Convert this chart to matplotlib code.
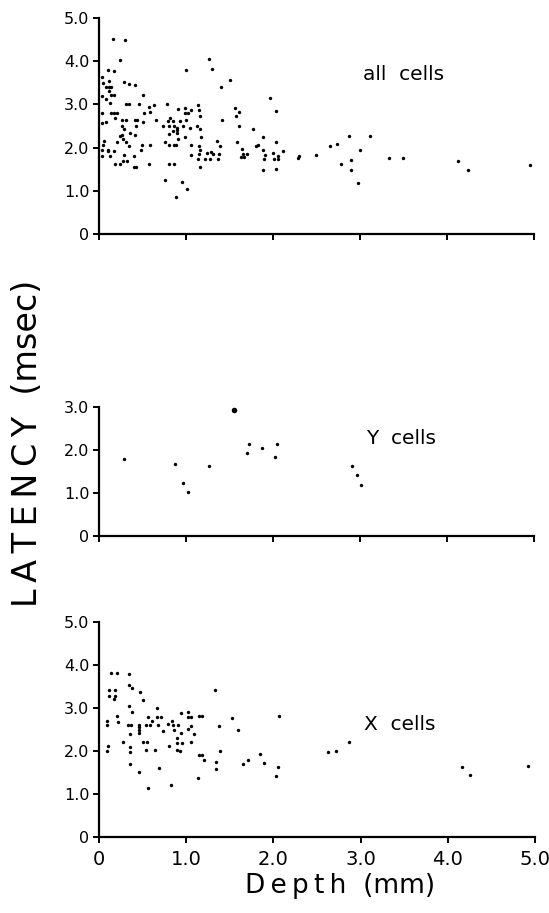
import matplotlib
matplotlib.use("Agg")
import matplotlib.pyplot as plt

# ---------------------------------------------------------------------------
# data: depth (mm) vs latency (msec)
# ---------------------------------------------------------------------------
all_depth = [
    0.16, 0.30, 0.24, 0.10, 0.17, 1.00, 0.04, 0.11, 0.05, 0.29, 0.34, 0.41,
    0.08, 0.11, 0.14, 0.11, 0.04, 0.14, 0.17, 0.08, 0.50, 0.13, 0.31, 0.35,
    0.46, 0.63, 0.78, 0.57, 0.91, 0.99, 0.04, 0.14, 0.17, 0.21, 0.52, 0.59,
    0.99, 1.02, 0.18, 0.08, 0.03, 0.26, 0.31, 0.41, 0.44, 0.50, 0.65, 0.82,
    0.79, 0.85, 0.93, 1.00, 1.05, 1.06, 0.27, 0.42, 0.73, 0.80, 0.86, 0.90,
    0.90, 0.97, 0.29, 0.85, 0.90, 0.36, 0.41, 0.27, 0.24, 0.81, 0.99, 0.91,
    0.28, 0.31, 0.21, 0.06, 0.76, 0.34, 0.05, 0.49, 0.59, 0.81, 0.86, 0.89,
    0.04, 0.10, 0.10, 0.17, 0.48, 1.06, 0.04, 0.13, 0.29, 0.40, 0.28, 0.32,
    1.06, 0.18, 0.24, 0.58, 0.81, 0.86, 0.40, 0.43, 0.76, 0.95, 1.01, 0.89,
    1.26, 1.30, 1.51, 1.40, 1.96, 1.14, 1.15, 1.16, 2.04, 1.56, 1.61, 1.57,
    1.41, 1.61, 1.13, 1.16, 1.77, 1.17, 1.88, 1.36, 1.59, 2.04, 1.39, 1.83,
    1.81, 1.15, 1.16, 1.64, 1.88, 2.12, 1.29, 1.24, 1.66, 1.70, 1.15, 1.31,
    1.38, 1.91, 2.00, 2.06, 2.30, 1.14, 1.22, 1.28, 1.37, 1.63, 1.67, 1.90,
    2.01, 2.06, 1.16, 1.88, 2.03,
    2.29, 2.49, 2.66, 2.74, 2.87, 3.11, 3.00, 2.90, 2.78, 2.90, 2.98, 3.33,
    3.49, 4.13, 4.24, 4.95,
]
all_latency = [
    4.51, 4.49, 4.02, 3.79, 3.78, 3.80, 3.63, 3.54, 3.50, 3.52, 3.47, 3.44,
    3.41, 3.41, 3.41, 3.31, 3.20, 3.21, 3.21, 3.12, 3.21, 3.03, 3.02, 3.02,
    3.02, 2.98, 3.02, 2.93, 2.89, 2.92, 2.81, 2.80, 2.80, 2.80, 2.80, 2.82,
    2.80, 2.80, 2.69, 2.60, 2.57, 2.65, 2.65, 2.64, 2.64, 2.60, 2.63, 2.68,
    2.62, 2.62, 2.61, 2.63, 2.45, 2.88, 2.51, 2.49, 2.49, 2.49, 2.49, 2.46,
    2.41, 2.50, 2.43, 2.38, 2.33, 2.34, 2.29, 2.29, 2.26, 2.31, 2.24, 2.21,
    2.20, 2.12, 2.12, 2.15, 2.13, 2.03, 2.05, 2.05, 2.05, 2.05, 2.05, 2.05,
    1.95, 1.95, 1.92, 1.92, 1.94, 2.05, 1.80, 1.80, 1.82, 1.81, 1.69, 1.69,
    1.82, 1.62, 1.62, 1.63, 1.62, 1.62, 1.54, 1.54, 1.26, 1.20, 1.04, 0.85,
    4.04, 3.82, 3.57, 3.41, 3.14, 2.99, 2.86, 2.74, 2.85, 2.92, 2.82, 2.73,
    2.64, 2.51, 2.51, 2.43, 2.44, 2.25, 2.25, 2.15, 2.12, 2.12, 2.03, 2.07,
    2.03, 2.03, 1.94, 1.96, 1.95, 1.93, 1.89, 1.88, 1.86, 1.85, 1.85, 1.85,
    1.86, 1.84, 1.87, 1.81, 1.81, 1.74, 1.73, 1.73, 1.73, 1.78, 1.78, 1.73,
    1.73, 1.73, 1.54, 1.47, 1.50,
    1.75, 1.84, 2.04, 2.08, 2.26, 2.27, 1.94, 1.71, 1.63, 1.49, 1.17, 1.77,
    1.77, 1.69, 1.48, 1.60,
]

y_depth = [0.29, 0.87, 0.97, 1.02, 1.27, 1.72, 1.70, 1.87, 2.05, 2.02,
           2.91, 2.96, 3.01]
y_latency = [1.79, 1.67, 1.24, 1.03, 1.63, 2.13, 1.92, 2.05, 2.13, 1.83,
             1.63, 1.42, 1.18]
y_big_depth = [1.55]          # the one heavier dot
y_big_latency = [2.92]

x_depth = [
    0.14, 0.21, 0.34, 0.12, 0.18, 0.12, 0.18, 0.17, 0.34, 0.38, 0.47, 0.51,
    0.34, 0.38, 0.67, 0.21, 0.22, 0.09, 0.09, 0.33, 0.37, 0.35, 0.46, 0.46,
    0.46, 0.46, 0.54, 0.58, 0.56, 0.61, 0.66, 0.71, 0.68, 0.73, 0.79, 0.84,
    0.85, 0.91, 0.94, 0.86, 0.94, 1.02, 1.02, 1.06, 1.02, 1.06, 1.09, 0.90,
    0.89, 0.95, 1.05, 0.90, 0.93, 0.80, 0.64, 0.54, 0.51, 0.55, 0.27, 0.35,
    0.36, 0.10, 0.09, 0.35, 0.69, 0.46, 0.56, 0.82,
    1.33, 1.15, 1.18, 1.53, 2.06, 1.38, 1.59, 1.39, 1.15, 1.18, 1.20, 1.34,
    1.34, 1.14, 1.71, 1.65, 1.85, 1.89, 2.05, 2.03,
    2.63, 2.72, 2.87, 4.16, 4.26, 4.92,
]
x_latency = [
    3.81, 3.81, 3.80, 3.42, 3.42, 3.29, 3.29, 3.20, 3.53, 3.46, 3.37, 3.18,
    3.05, 2.90, 2.99, 2.81, 2.68, 2.69, 2.61, 2.60, 2.60, 2.40, 2.60, 2.55,
    2.50, 2.42, 2.60, 2.60, 2.78, 2.69, 2.78, 2.80, 2.60, 2.47, 2.62, 2.70,
    2.61, 2.61, 2.88, 2.48, 2.43, 2.90, 2.79, 2.79, 2.52, 2.59, 2.40, 2.30,
    2.19, 2.19, 2.22, 2.03, 1.99, 2.11, 2.03, 2.02, 2.22, 2.22, 2.20, 2.10,
    1.97, 2.11, 2.00, 1.69, 1.60, 1.51, 1.15, 1.21,
    3.41, 2.81, 2.81, 2.77, 2.82, 2.58, 2.49, 2.00, 1.90, 1.90, 1.78, 1.75,
    1.58, 1.37, 1.79, 1.70, 1.93, 1.71, 1.62, 1.42,
    1.98, 2.00, 2.22, 1.63, 1.44, 1.64,
]

depth_ticks = [0, 1, 2, 3, 4, 5]
depth_labels = ["0", "1.0", "2.0", "3.0", "4.0", "5.0"]
lat_ticks_5 = [0, 1, 2, 3, 4, 5]
lat_labels_5 = ["0", "1.0", "2.0", "3.0", "4.0", "5.0"]
lat_ticks_3 = [0, 1, 2, 3]
lat_labels_3 = ["0", "1.0", "2.0", "3.0"]

W, H = 549, 913
TS = "\u2009"   # thin space, to spread the letters like the original lettering


def px_axes(fig, x0, x1, y_top, y_bot):
    """axes from pixel edges of the reference picture"""
    return fig.add_axes([x0 / W, 1 - y_bot / H, (x1 - x0) / W, (y_bot - y_top) / H])


def style(ax, ymax, yt, yl, xlabels):
    ax.set_xlim(0, 5)
    ax.set_ylim(0, ymax)
    for s in ("top", "right"):
        ax.spines[s].set_visible(False)
    for s in ("left", "bottom"):
        ax.spines[s].set_linewidth(1.6)
    ax.set_yticks(yt, yl)
    ax.set_xticks(depth_ticks, depth_labels if xlabels else [])
    ax.tick_params(axis="y", direction="out", length=4, width=1.4, labelsize=11.5, pad=3)
    ax.tick_params(axis="x", direction="out", length=4, width=1.4, labelsize=14, pad=5)


fig = plt.figure(figsize=(W / 100, H / 100), dpi=100)

ax1 = px_axes(fig, 99, 534, 18, 234)
ax1.scatter(all_depth, all_latency, s=6, color="black", linewidths=0)
style(ax1, 5, lat_ticks_5, lat_labels_5, False)

ax2 = px_axes(fig, 99, 534, 407, 536)
ax2.scatter(y_depth, y_latency, s=6, color="black", linewidths=0)
ax2.scatter(y_big_depth, y_big_latency, s=16, color="black", linewidths=0)
style(ax2, 3, lat_ticks_3, lat_labels_3, False)

ax3 = px_axes(fig, 99, 535, 622, 837)
ax3.scatter(x_depth, x_latency, s=6, color="black", linewidths=0)
style(ax3, 5, lat_ticks_5, lat_labels_5, True)

fig.text(404 / W, 1 - 75 / H, "all  cells", ha="center", va="center", fontsize=14.5)
fig.text(401 / W, 1 - 439 / H, "Y  cells", ha="center", va="center", fontsize=14.5)
fig.text(400 / W, 1 - 724 / H, "X  cells", ha="center", va="center", fontsize=14.5)

fig.text(28 / W, 1 - 443 / H, TS.join("LATENCY") + "  (msec)", rotation=90,
         ha="center", va="center", fontsize=24)
fig.text(340 / W, 1 - 886 / H, TS.join("Depth") + "  (mm)", ha="center", va="center",
         fontsize=19)

fig.savefig("out.png", dpi=100)
